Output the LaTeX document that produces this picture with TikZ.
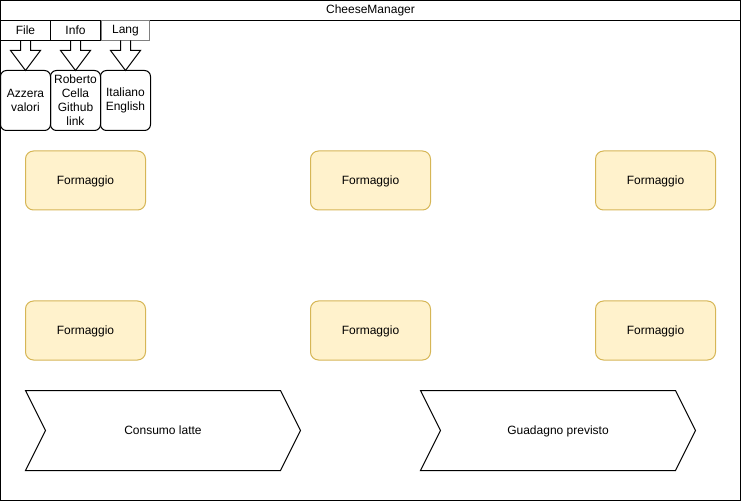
\documentclass[tikz,border=0pt]{standalone}
\usepackage{fontspec}
\setmainfont{Liberation Sans}
\usetikzlibrary{positioning}
\definecolor{cheesefill}{HTML}{FFF2CC}
\definecolor{cheeseline}{HTML}{D6B656}

\begin{document}
\begin{tikzpicture}[x=1pt, y=1pt, line width=1pt, font=\fontsize{12}{14}\selectfont,
    tabnode/.style={rectangle, draw, minimum width=50pt, minimum height=20pt, inner sep=0pt, outer sep=0pt},
    menunode/.style={rectangle, draw, rounded corners=6pt, minimum width=50pt, minimum height=60pt, inner sep=0pt, outer sep=0pt, align=center},
    cheesenode/.style={rectangle, draw=cheeseline, fill=cheesefill, rounded corners=8pt, minimum width=120pt, minimum height=59pt, outer sep=0pt, text depth=0pt}]

        \useasboundingbox (0,0) rectangle (741,501);

        % window
        \draw (0.5,0.5) rectangle (740.5,500.5);
        \draw (0.5,480.5) -- (740.5,480.5);
        \node (title) at (370.5,490.5) {CheeseManager};

        % menu
        \node[tabnode] (file) at (25.5,470.5) {File};
        \node[tabnode] (info) [right=0pt of file] {Info};
        \node[tabnode, draw=gray, minimum width=48pt] (lang) [right=1pt of info] {Lang};

        \node[menunode] (filemenu) [below=30pt of file] {Azzera\\valori};
        \node[menunode] (infomenu) [below=30pt of info] {Roberto\\Cella\\Github\\link};
        \node[menunode] (langmenu) [below=30pt of lang] {Italiano\\English};

        \foreach \t in {file,info,lang}
            \draw (\t.south) ++(-5,0) -- ++(0,-10) -- ++(-10,0) -- ++(15,-20) -- ++(15,20) -- ++(-10,0) -- ++(0,10);

        % cheeses
        \node[cheesenode] (c1) at (85.5,320.5) {Formaggio};
        \node[cheesenode] (c2) [right=165pt of c1] {Formaggio};
        \node[cheesenode] (c3) [right=165pt of c2] {Formaggio};
        \node[cheesenode] (c4) [below=91pt of c1] {Formaggio};
        \node[cheesenode] (c5) [right=165pt of c4] {Formaggio};
        \node[cheesenode] (c6) [right=165pt of c5] {Formaggio};

        % totals
        \node[text depth=0pt] (milk) at (163,70.5) {Consumo latte};
        \node[text depth=0pt] (gain) at (558,70.5) {Guadagno previsto};

        \foreach \s in {milk,gain}
            \draw (\s.center) ++(-137.5,40) -- ++(255,0) -- ++(20,-40) -- ++(-20,-40) -- ++(-255,0) -- ++(20,40) -- cycle;

\end{tikzpicture}
\end{document}
